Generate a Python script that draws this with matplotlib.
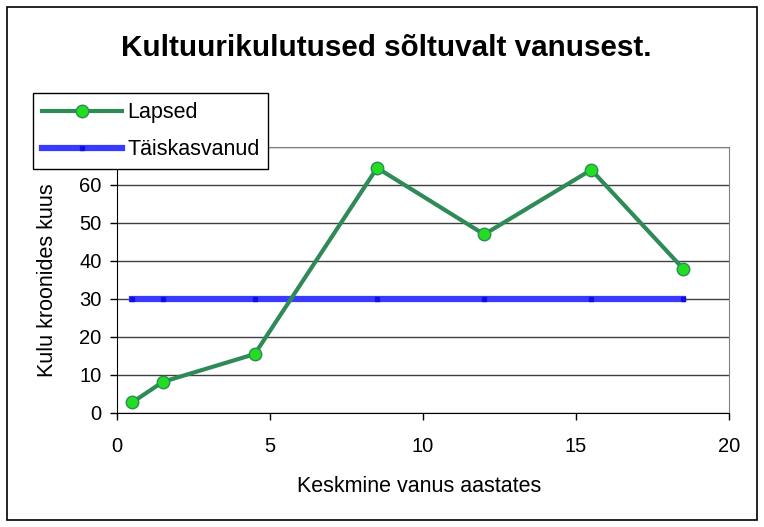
import matplotlib
matplotlib.use("Agg")
import matplotlib.pyplot as plt
from matplotlib.patches import Rectangle

plt.rcParams['font.family'] = ['Liberation Sans', 'DejaVu Sans']

title = "Kultuurikulutused sõltuvalt vanusest."
xlabel = "Keskmine vanus aastates"
ylabel = "Kulu kroonides kuus"

ages = [0.5, 1.5, 4.5, 8.5, 12, 15.5, 18.5]
lapsed = [2.8, 8.2, 15.5, 64.5, 47, 64, 38]
taiskasvanud = [30, 30, 30, 30, 30, 30, 30]
series_names = ["Lapsed", "Täiskasvanud"]
xticks = [0, 5, 10, 15, 20]
yticks = [0, 10, 20, 30, 40, 50, 60, 70]

W, H = 764, 527
fig = plt.figure(figsize=(W/100, H/100), dpi=100)
fig.patch.set_facecolor('white')

# outer frame
fig.add_artist(Rectangle((7/W, 7/H), 750/W, 513/H, transform=fig.transFigure,
                         fill=False, edgecolor='black', linewidth=1.2))

left, right, top, bottom = 117, 729, 147, 413
ax = fig.add_axes([left/W, 1-bottom/H, (right-left)/W, (bottom-top)/H])
ax.set_xlim(0, 20)
ax.set_ylim(0, 70)
ax.set_xticks(xticks)
ax.set_yticks(yticks)
ax.grid(axis='y', color='#404040', linewidth=1.0)
ax.set_axisbelow(True)
for s in ['top', 'right']:
    ax.spines[s].set_color('#808080')
for s in ['left', 'bottom']:
    ax.spines[s].set_color('black')
ax.tick_params(direction='out', length=5, labelsize=14.5, colors='black', width=1)
ax.tick_params(axis='x', pad=12)
ax.tick_params(axis='y', pad=6)

ax.plot(ages, taiskasvanud, color='#3a3aff', linewidth=4.5, marker='s', markersize=3.5,
        markerfacecolor='#1010e0', markeredgecolor='#1010e0', label=series_names[1], zorder=3)
ax.plot(ages, lapsed, color='#2e8b57', linewidth=3, marker='o', markersize=9,
        markerfacecolor='#22dd22', markeredgecolor='#2e8b57', markeredgewidth=1, label=series_names[0], zorder=4)

h, l = ax.get_legend_handles_labels()
leg = fig.legend([h[1], h[0]], [l[1], l[0]], loc='upper left',
                 bbox_to_anchor=(33/W, 1-93/H), fontsize=15.5, frameon=True, fancybox=False,
                 edgecolor='black', framealpha=1, handlelength=3.7, borderpad=0.42,
                 labelspacing=0.75, handletextpad=0.25, borderaxespad=0)
leg.get_frame().set_linewidth(1)
leg.set_zorder(10)

fig.text(419/W, 1-487/H, xlabel, ha='center', va='center', fontsize=15.5)
fig.text(48/W, 1-280/H, ylabel, ha='center', va='center', fontsize=15.5, rotation=90)
fig.text(386/W, 1-48/H, title, ha='center', va='center', fontsize=21.3, fontweight='bold')

fig.savefig("out.png", dpi=100)
